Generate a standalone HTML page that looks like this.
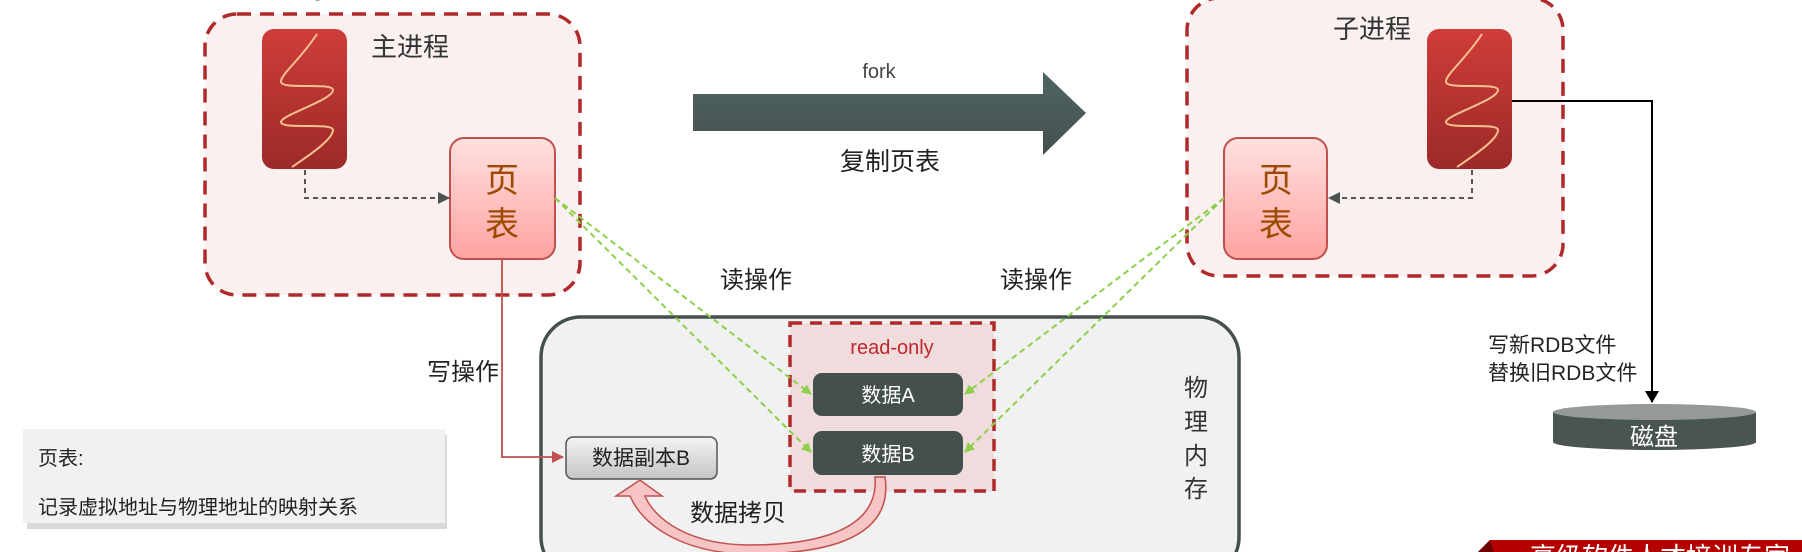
<!DOCTYPE html>
<html><head><meta charset="utf-8"><style>
html,body{margin:0;padding:0;background:#fff;width:1802px;height:552px;overflow:hidden}
svg text{font-family:"Liberation Sans","Noto Sans CJK SC",sans-serif}
</style></head><body>
<svg width="1802" height="552" viewBox="0 0 1802 552" xmlns="http://www.w3.org/2000/svg">
<defs>
<linearGradient id="thr" x1="0" y1="0" x2="0" y2="1"><stop offset="0" stop-color="#cf3d3a"/><stop offset="1" stop-color="#9c2a28"/></linearGradient>
<linearGradient id="pt" x1="0" y1="0" x2="0" y2="1"><stop offset="0" stop-color="#ffe1e0"/><stop offset="1" stop-color="#ffa3a1"/></linearGradient>
<linearGradient id="cp" x1="0" y1="0" x2="0" y2="1"><stop offset="0" stop-color="#f4f4f4"/><stop offset="1" stop-color="#c4c4c4"/></linearGradient>
<linearGradient id="ar" x1="0" y1="0" x2="0" y2="1"><stop offset="0" stop-color="#4f6563"/><stop offset="1" stop-color="#44504f"/></linearGradient>
<marker id="ag" markerWidth="10" markerHeight="10" refX="9" refY="5" orient="auto" markerUnits="userSpaceOnUse"><path d="M0,0 L10,5 L0,10 z" fill="#8cd04a"/></marker>
<marker id="ad" markerWidth="12" markerHeight="12" refX="11" refY="6" orient="auto" markerUnits="userSpaceOnUse"><path d="M0,0 L12,6 L0,12 z" fill="#4a5453"/></marker>
<marker id="ab" markerWidth="12" markerHeight="14" refX="11" refY="7" orient="auto" markerUnits="userSpaceOnUse"><path d="M0,0 L12,7 L0,14 z" fill="#000"/></marker>
<marker id="ar2" markerWidth="12" markerHeight="12" refX="11" refY="6" orient="auto" markerUnits="userSpaceOnUse"><path d="M0,0 L12,6 L0,12 z" fill="#c0504d"/></marker>
</defs>

<text x="140" y="-5" font-size="26" fill="#333">在子进程执行bgsave时，主进程可以继续处理写请求，数据复制由操作系统完成</text>

<!-- main process box -->
<rect x="205" y="14" width="375" height="281" rx="32" fill="#f9f0ef" stroke="#b0292a" stroke-width="3.5" stroke-dasharray="14,9"/>
<rect x="262" y="29" width="85" height="140" rx="12" fill="url(#thr)"/>
<path d="M317,34 C300,60 280,75 281,82 C282,90 333,82 333,90 C333,100 281,115 281,122 C281,130 333,122 333,130 C333,140 305,158 292,167" fill="none" stroke="#f6c08f" stroke-width="2"/>
<text x="371" y="56" font-size="26" fill="#333">主进程</text>
<rect x="450" y="138" width="105" height="121" rx="14" fill="url(#pt)" stroke="#c0504d" stroke-width="2"/>
<text x="502" y="192" font-size="34" fill="#9c4a00" text-anchor="middle">页</text>
<text x="502" y="236" font-size="34" fill="#9c4a00" text-anchor="middle">表</text>
<path d="M305,170 V198 H449" fill="none" stroke="#555" stroke-width="2" stroke-dasharray="5,4" marker-end="url(#ad)"/>

<!-- fork arrow -->
<path d="M693,94 H1043 V72 L1086,113 L1043,155 V131 H693 z" fill="url(#ar)"/>
<text x="879" y="78" font-size="20" fill="#444" text-anchor="middle">fork</text>
<text x="890" y="170" font-size="25" fill="#222" text-anchor="middle">复制页表</text>

<!-- child process box -->
<rect x="1187" y="-2" width="376" height="278" rx="32" fill="#f9f0ef" stroke="#b0292a" stroke-width="3.5" stroke-dasharray="14,9"/>
<text x="1333" y="38" font-size="26" fill="#333">子进程</text>
<rect x="1427" y="29" width="85" height="140" rx="12" fill="url(#thr)"/>
<path d="M1482,34 C1465,60 1445,75 1446,82 C1447,90 1498,82 1498,90 C1498,100 1446,115 1446,122 C1446,130 1498,122 1498,130 C1498,140 1470,158 1457,167" fill="none" stroke="#f6c08f" stroke-width="2"/>
<rect x="1224" y="138" width="103" height="121" rx="14" fill="url(#pt)" stroke="#c0504d" stroke-width="2"/>
<text x="1276" y="192" font-size="34" fill="#9c4a00" text-anchor="middle">页</text>
<text x="1276" y="236" font-size="34" fill="#9c4a00" text-anchor="middle">表</text>
<path d="M1472,170 V198 H1329" fill="none" stroke="#555" stroke-width="2" stroke-dasharray="5,4" marker-end="url(#ad)"/>

<!-- to disk -->
<path d="M1512,101 H1652 V402" fill="none" stroke="#000" stroke-width="2" marker-end="url(#ab)"/>
<text x="1488" y="352" font-size="21" fill="#222">写新RDB文件</text>
<text x="1488" y="380" font-size="21" fill="#222">替换旧RDB文件</text>
<path d="M1553,412 V442 A101,8 0 0 0 1756,442 V412 z" fill="#4a5453"/>
<ellipse cx="1654.5" cy="412" rx="101.5" ry="8" fill="#959a99"/>
<text x="1654" y="445" font-size="24" fill="#fff" text-anchor="middle">磁盘</text>

<!-- physical memory -->
<rect x="541" y="317" width="698" height="260" rx="40" fill="#f1f1f1" stroke="#444f4e" stroke-width="3.5"/>
<rect x="790" y="323" width="204" height="168" fill="#f0dcdc" stroke="#b0292a" stroke-width="3.5" stroke-dasharray="12,8"/>
<text x="892" y="354" font-size="20" fill="#c0272d" text-anchor="middle">read-only</text>
<rect x="813" y="373" width="150" height="43" rx="9" fill="#454f4e"/>
<text x="888" y="402" font-size="20" fill="#fff" text-anchor="middle">数据A</text>
<rect x="813" y="431" width="150" height="44" rx="9" fill="#454f4e"/>
<text x="888" y="461" font-size="20" fill="#fff" text-anchor="middle">数据B</text>
<rect x="566" y="437" width="151" height="42" rx="7" fill="url(#cp)" stroke="#555" stroke-width="1.5"/>
<text x="641" y="465" font-size="21" fill="#222" text-anchor="middle">数据副本B</text>
<g font-size="24" fill="#333" text-anchor="middle"><text x="1196" y="396">物</text><text x="1196" y="430">理</text><text x="1196" y="464">内</text><text x="1196" y="497">存</text></g>

<!-- write -->
<path d="M502,259 V457 H563" fill="none" stroke="#c0504d" stroke-width="1.8" marker-end="url(#ar2)"/>
<text x="427" y="380" font-size="24" fill="#222">写操作</text>

<!-- green dashed -->
<g stroke="#8cd04a" stroke-width="2" stroke-dasharray="6,4" fill="none">
<path d="M555,198 L811,394" marker-end="url(#ag)"/>
<path d="M555,198 L811,452" marker-end="url(#ag)"/>
<path d="M1224,198 L965,394" marker-end="url(#ag)"/>
<path d="M1224,198 L965,452" marker-end="url(#ag)"/>
</g>
<text x="720" y="288" font-size="24" fill="#222">读操作</text>
<text x="1000" y="288" font-size="24" fill="#222">读操作</text>

<!-- copy arrow -->
<path d="M875,477 C880,540 790,545 750,545 C690,545 655,520 645,496 L662,496 L640,480 L616,496 L630,496 C645,530 690,554 750,554 C810,554 895,545 885,477 z" fill="#f7c5c5" stroke="#c0504d" stroke-width="1.5"/>
<text x="690" y="521" font-size="24" fill="#222">数据拷贝</text>

<!-- note -->
<rect x="25" y="431" width="420" height="94" fill="#cfcfcf" transform="translate(2,4)" opacity="0.8"/>
<rect x="23" y="429" width="422" height="94" fill="#f1f1f1"/>
<text x="38" y="465" font-size="20" fill="#222">页表:</text>
<text x="38" y="514" font-size="20" fill="#222">记录虚拟地址与物理地址的映射关系</text>

<!-- banner -->
<path d="M1478,552 L1490,540 H1802 V552 z" fill="#b50000"/>
<path d="M1478,552 L1490,540 L1494,552 z" fill="#6e0000"/>
<text x="1530" y="566" font-size="26" fill="#fff" font-family="Liberation Serif,Noto Serif CJK SC,serif">高级软件人才培训专家</text>
</svg>
</body></html>
